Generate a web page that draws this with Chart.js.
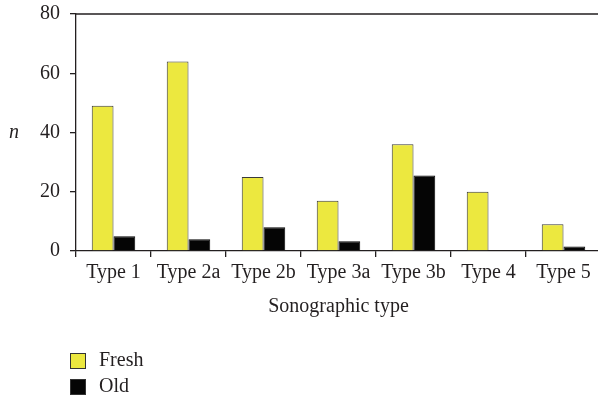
<!DOCTYPE html>
<html>
<head>
<meta charset="utf-8">
<script src="https://cdn.jsdelivr.net/npm/chart.js@4"></script>
<style>
    html, body { margin: 0; padding: 0; background: #fff; overflow: hidden; }
</style>
</head>
<body>
<canvas id="sonoChart" width="602" height="402"></canvas>
<script>
const categories = ['Type 1', 'Type 2a', 'Type 2b', 'Type 3a', 'Type 3b', 'Type 4', 'Type 5'];
const freshValues = [49, 64, 25, 17, 36, 20, 9];
const oldValues = [5, 4, 8, 3.3, 25.5, 0, 1.5];
const yTicks = [0, 20, 40, 60, 80];

const ink = '#231f20';
const serif = "'Liberation Serif', 'DejaVu Serif', serif";

// frame on top/right, the "n" label and the stacked legend below the axis
const extras = {
    id: 'extras',
    afterDraw(chart) {
        const ctx = chart.ctx;
        const area = chart.chartArea;
        ctx.save();
        ctx.strokeStyle = ink;
        ctx.lineWidth = 1.3;
        ctx.beginPath();
        ctx.moveTo(area.left, area.top);
        ctx.lineTo(area.right, area.top);
        ctx.lineTo(area.right, area.bottom);
        ctx.stroke();

        ctx.fillStyle = ink;
        ctx.font = "italic 20px " + serif;
        ctx.textAlign = 'center';
        ctx.textBaseline = 'middle';
        ctx.fillText('n', 14, (area.top + area.bottom) / 2);

        ctx.font = "20px " + serif;
        ctx.textAlign = 'left';
        const x0 = area.left - 6;
        let y0 = chart.scales.x.bottom + 34;
        chart.data.datasets.forEach(ds => {
            ctx.fillStyle = ds.backgroundColor;
            ctx.fillRect(x0, y0, 16, 16);
            ctx.strokeStyle = '#333';
            ctx.lineWidth = 1;
            ctx.strokeRect(x0 + 0.5, y0 + 0.5, 15, 15);
            ctx.fillStyle = ink;
            ctx.fillText(ds.label, x0 + 29, y0 + 8);
            y0 += 26;
        });
        ctx.restore();
    }
};

new Chart(document.getElementById('sonoChart'), {
    type: 'bar',
    data: {
        labels: categories,
        datasets: [{
            label: 'Fresh',
            data: freshValues,
            backgroundColor: '#ece83f',
            borderColor: '#3a3a3a',
            borderWidth: 1,
        }, {
            label: 'Old',
            data: oldValues,
            backgroundColor: '#050505',
            borderColor: '#050505',
            borderWidth: 1,
        }],
    },
    options: {
        responsive: false,
        animation: false,
        devicePixelRatio: 1,
        layout: {
            padding: { top: 14, left: 30, right: 1, bottom: 83 },
        },
        datasets: {
            bar: { categoryPercentage: 0.58, barPercentage: 1 },
        },
        plugins: {
            legend: { display: false },
            tooltip: { enabled: false },
        },
        scales: {
            x: {
                grid: {
                    offset: true,
                    drawOnChartArea: false,
                    drawTicks: true,
                    tickLength: 6,
                    color: ink,
                    lineWidth: 1.3,
                },
                border: { display: true, color: ink, width: 1.3 },
                ticks: {
                    color: ink,
                    padding: 4,
                    font: { family: serif, size: 20 },
                    maxRotation: 0,
                },
                title: {
                    display: true,
                    text: 'Sonographic type',
                    color: ink,
                    font: { family: serif, size: 20 },
                    padding: { top: 6, bottom: 0 },
                },
            },
            y: {
                min: 0,
                max: 80,
                afterBuildTicks(scale) {
                    scale.ticks = yTicks.map(v => ({ value: v }));
                },
                grid: {
                    drawOnChartArea: false,
                    drawTicks: true,
                    tickLength: 6,
                    color: ink,
                    lineWidth: 1.3,
                },
                border: { display: true, color: ink, width: 1.3 },
                ticks: {
                    color: ink,
                    padding: 10,
                    font: { family: serif, size: 20, lineHeight: 0.4 },
                },
            },
        },
    },
    plugins: [extras],
});
</script>
</body>
</html>
